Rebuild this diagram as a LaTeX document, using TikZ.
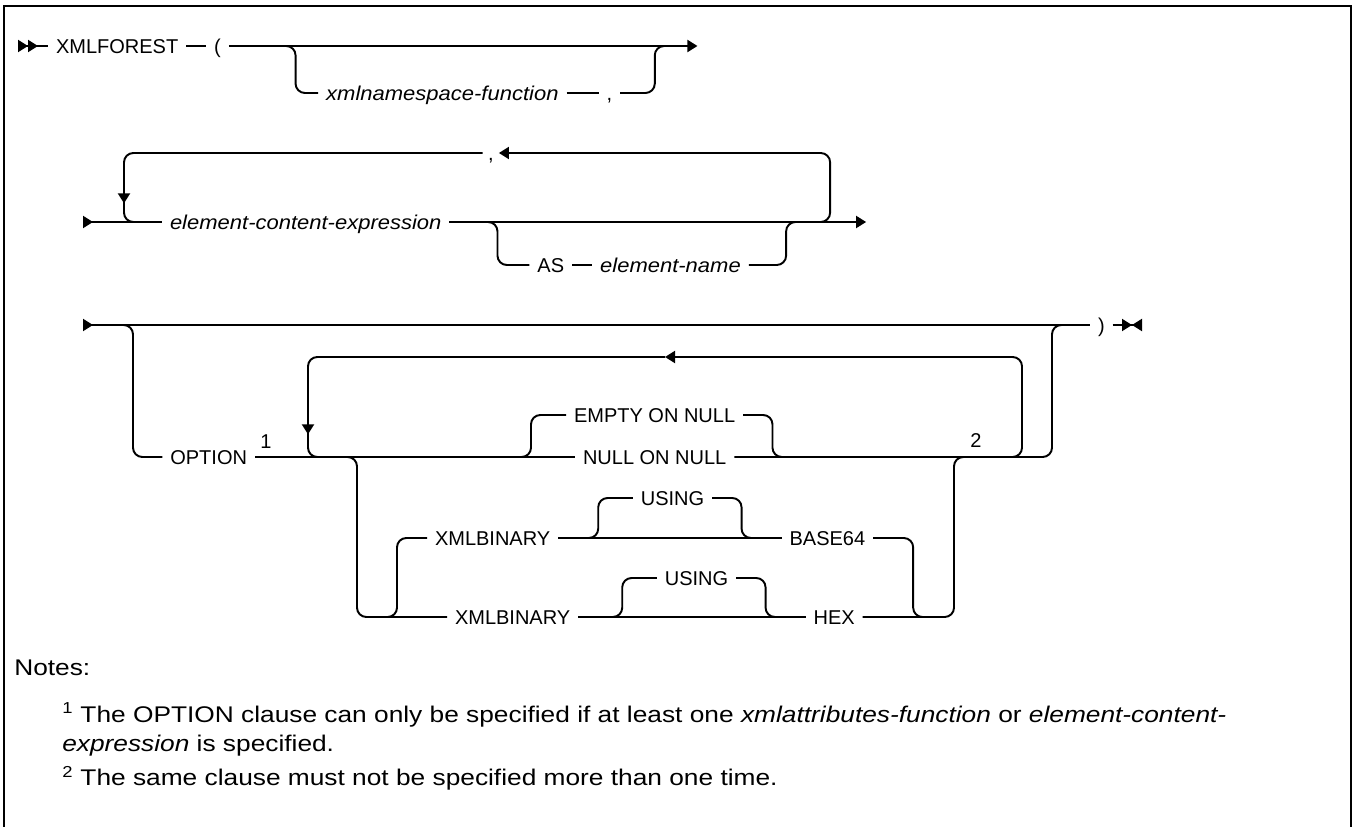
\documentclass[tikz,border=0pt]{standalone}
\usepackage{fontspec}
\setmainfont{Liberation Sans}
\newfontfamily\widefont[FakeStretch=1.1]{Liberation Sans}
\newfontfamily\notefont[FakeStretch=1.16]{Liberation Sans}
\usetikzlibrary{positioning,arrows.meta}

\newcommand\railsize{\fontsize{15pt}{18pt}\selectfont}
\newcommand\notesize{\fontsize{17pt}{23pt}\selectfont}

\tikzset{
  rail/.style={line width=1.45pt, rounded corners=7pt},
  runin/.style={rail, {Triangle[reversed,length=7.5pt,width=9pt]}-},
  runin2/.style={rail, {Triangle[reversed,length=7.5pt,width=9pt]Triangle[reversed,length=7.5pt,width=9pt]}-},
  runon/.style={rail, -{Triangle[length=7.5pt,width=9pt]}},
  runout/.style={rail, -{Triangle[length=7.5pt,width=9pt]Triangle[reversed,length=7.5pt,width=9pt]}}
}

\begin{document}
\begin{tikzpicture}[
  x=0.75pt, y=-0.75pt,
  kw/.style={font=\railsize, inner sep=0pt, outer sep=6pt, anchor=west,
    text height=10.7pt, text depth=0pt},
  var/.style={kw, font=\railsize\widefont\itshape},
  fnote/.style={kw, outer sep=0pt},
  note/.style={font=\notesize\notefont, inner sep=0pt, anchor=west}
]
\useasboundingbox (0,0) rectangle (1353,827);
\draw[line width=1.8pt] (4,840) -- (4,6) -- (1351,6) -- (1351,840);

% row levels
\coordinate (row1) at (0,46);
\coordinate (row1b) at (0,93);
\coordinate (row2t) at (0,153);
\coordinate (row2) at (0,222);
\coordinate (row2b) at (0,265);
\coordinate (row3) at (0,325);
\coordinate (row3t) at (0,357);
\coordinate (rempty) at (0,415);
\coordinate (rnull) at (0,457);
\coordinate (rusing1) at (0,498);
\coordinate (rxml1) at (0,538);
\coordinate (rusing2) at (0,578);
\coordinate (rxml2) at (0,617);

% first line
\coordinate (s1) at (18,46);
\node[kw] (xmlforest) at (48,46) {XMLFOREST};
\node[kw, right=15pt of xmlforest] (lpar) {(};
\coordinate[right=50pt of lpar] (j1);
\coordinate (j1b) at (j1 |- row1b);
\node[var, right=17pt of j1b] (nsfunc) {xmlnamespace-function};
\node[kw, right=24pt of nsfunc] (comma1) {,};
\coordinate[right=26pt of comma1] (k1b);
\coordinate (k1) at (k1b |- row1);
\coordinate[right=32pt of k1] (e1);
\draw[runin2] (s1) -- (xmlforest);
\draw[rail] (xmlforest) -- (lpar);
\draw[runon] (lpar) -- (e1);
\draw[rail] ([xshift=-8pt]j1) -- (j1) -- (j1b) -- (nsfunc);
\draw[rail] (nsfunc) -- (comma1);
\draw[rail] (comma1) -- (k1b) -- (k1) -- ([xshift=8pt]k1);

% second line
\coordinate (s2) at (83,222);
\coordinate (loopl2) at (124,222);
\coordinate (loopl2t) at (loopl2 |- row2t);
\node[var] (ecexpr) at (162,222) {element-content-expression};
\coordinate[right=36pt of ecexpr] (j2);
\coordinate (j2b) at (j2 |- row2b);
\node[kw, right=24pt of j2b] (as) {AS};
\node[var, right=15pt of as] (ename) {element-name};
\coordinate[right=28pt of ename] (k2b);
\coordinate (k2) at (k2b |- row2);
\coordinate[right=33pt of k2] (loopr2);
\coordinate (loopr2t) at (loopr2 |- row2t);
\coordinate[right=27pt of loopr2] (e2);
\coordinate (c2) at (j2 |- row2t);
\node[kw, anchor=center, outer sep=4pt] (comma2) at ([xshift=-5pt]c2) {,};
\draw[runin] (s2) -- (ecexpr);
\draw[runon] (ecexpr) -- (e2);
\draw[rail] ([xshift=-8pt]j2) -- (j2) -- (j2b) -- (as);
\draw[rail] (as) -- (ename);
\draw[rail] (ename) -- (k2b) -- (k2) -- ([xshift=8pt]k2);
\draw[runon] ([xshift=-8pt]loopr2) -- (loopr2) -- (loopr2t) -- (comma2);
\draw[runon] (comma2) -- (loopl2t) -- ([yshift=14pt]loopl2);
\draw[rail] ([yshift=16pt]loopl2) -- (loopl2) -- ([xshift=8pt]loopl2);

% third line
\coordinate (s3) at (83,325);
\coordinate (j3) at (133,325);
\coordinate (j3b) at (j3 |- rnull);
\node[kw, right=22pt of j3b] (option) {OPTION};
\node[fnote] (fn1) at ([xshift=4pt,yshift=12pt]option.east) {1};
\coordinate (loopl3) at (308,457);
\coordinate (loopl3t) at (308,357);
\coordinate (loopr3) at (1022,457);
\coordinate (loopr3t) at (1022,357);
\coordinate (arr3) at (665,357);
\coordinate (ch1) at (357,457);
\coordinate (ch1b) at (357,617);
\coordinate (ch2) at (954,457);
\coordinate (ch2b) at (954,617);
\coordinate (k3b) at (1052,457);
\coordinate (k3) at (1052,325);
\node[kw] (rpar) at (1090,325) {)};
\coordinate[right=22pt of rpar] (e3);

\coordinate (ea) at (531,457);
\coordinate (eat) at (ea |- rempty);
\node[kw] (empty) at (566,415) {EMPTY ON NULL};
\node[kw] (nullon) at (575,457) {NULL ON NULL};
\coordinate[right=22pt of empty] (ebt);
\coordinate (eb) at (ebt |- rnull);
\node[fnote, anchor=center] (fn2) at (976,440) {2};

\coordinate (xa) at (397,538);
\coordinate (xab) at (397,617);
\node[kw] (xmlbin1) at (427,538) {XMLBINARY};
\coordinate[right=30pt of xmlbin1] (ua);
\coordinate (uat) at (ua |- rusing1);
\node[kw, right=26pt of uat] (using1) {USING};
\coordinate[right=22pt of using1] (ubt);
\coordinate (ub) at (ubt |- rxml1);
\node[kw, right=30pt of ub] (base64) {BASE64};
\coordinate[right=30pt of base64] (xc);
\coordinate (xcb) at (xc |- rxml2);

\node[kw] (xmlbin2) at (447,617) {XMLBINARY};
\coordinate[right=33pt of xmlbin2] (va);
\coordinate (vat) at (va |- rusing2);
\node[kw, right=26pt of vat] (using2) {USING};
\coordinate[right=22pt of using2] (vbt);
\coordinate (vb) at (vbt |- rxml2);
\node[kw, right=30pt of vb] (hex) {HEX};

\draw[runin] (s3) -- (rpar);
\draw[runout] (rpar) -- (e3);
\draw[rail] ([xshift=-8pt]j3) -- (j3) -- (j3b) -- (option);
\draw[rail] (option) -- (nullon);
\draw[rail] (nullon) -- (k3b) -- (k3) -- ([xshift=8pt]k3);
\draw[runon] ([xshift=-8pt]loopr3) -- (loopr3) -- (loopr3t) -- (arr3);
\draw[runon] (arr3) -- (loopl3t) -- ([yshift=17pt]loopl3);
\draw[rail] ([yshift=19pt]loopl3) -- (loopl3) -- ([xshift=8pt]loopl3);
\draw[rail] ([xshift=-8pt]ea) -- (ea) -- (eat) -- (empty);
\draw[rail] (empty) -- (ebt) -- (eb) -- ([xshift=8pt]eb);
\draw[rail] ([xshift=-8pt]ch1) -- (ch1) -- (ch1b) -- (xmlbin2);
\draw[rail] ([xshift=-8pt]xab) -- (xab) -- (xa) -- (xmlbin1);
\draw[rail] (xmlbin1) -- (base64);
\draw[rail] ([xshift=-8pt]ua) -- (ua) -- (uat) -- (using1);
\draw[rail] (using1) -- (ubt) -- (ub) -- ([xshift=8pt]ub);
\draw[rail] (base64) -- (xc) -- (xcb) -- ([xshift=8pt]xcb);
\draw[rail] (xmlbin2) -- (hex);
\draw[rail] ([xshift=-8pt]va) -- (va) -- (vat) -- (using2);
\draw[rail] (using2) -- (vbt) -- (vb) -- ([xshift=8pt]vb);
\draw[rail] (hex) -- (ch2b) -- (ch2) -- ([xshift=8pt]ch2);

% notes
\node[note] (notes) at (14,668) {Notes:};
\node[note] (note1) at (62,715) {\textsuperscript{1} The OPTION clause can only be specified if at least one \textit{xmlattributes-function} or \textit{element-content-}};
\node[note] (note1b) at (62,746) {\textit{expression} is specified.};
\node[note] (note2) at (62,778) {\textsuperscript{2} The same clause must not be specified more than one time.};
\end{tikzpicture}
\end{document}
